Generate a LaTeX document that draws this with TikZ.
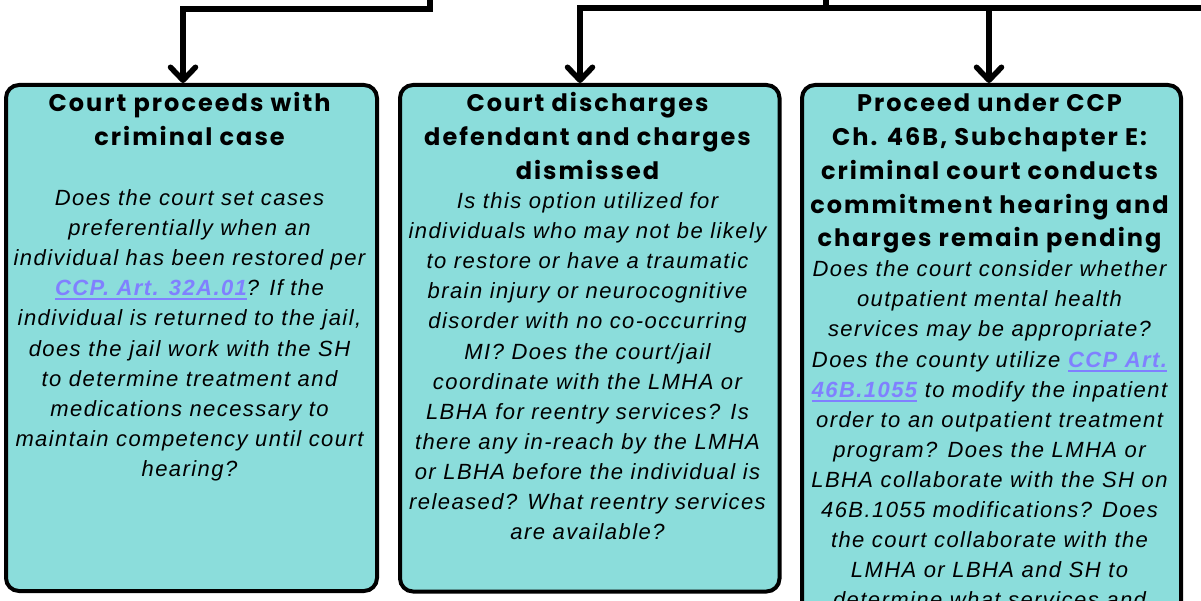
\documentclass[tikz,border=0pt]{standalone}
\usepackage{fontspec}
\setmainfont{Liberation Sans}
\newfontfamily\ttlfont{Poppins}[LetterSpace=8.5]
\newfontfamily\bodyfont{Liberation Sans}[LetterSpace=6.5]
\usetikzlibrary{arrows.meta}
\definecolor{boxfill}{RGB}{139,221,219}
\definecolor{linkc}{RGB}{128,128,255}
\newcommand\lnk[1]{{\color{linkc}\bfseries\setbox0=\hbox{#1}\rlap{\rule[-4.5pt]{\wd0}{2pt}}\box0}}
\tikzset{
  box/.style={draw=black, line width=4pt, fill=boxfill, rounded corners=13pt, rectangle, inner sep=0pt},
  ttl/.style={anchor=base, inner sep=0pt, font=\ttlfont\bfseries\fontsize{24}{28}\selectfont},
  body/.style={anchor=base, inner sep=0pt, font=\bodyfont\itshape\fontsize{22}{24}\selectfont},
  conn/.style={draw=black, line width=5.5pt, line join=miter},
  arr/.style={conn, -{Straight Barb[length=13pt,width=25pt,round]}}
}
\begin{document}
\begin{tikzpicture}[x=1pt,y=-1pt]
\useasboundingbox (0,0) rectangle (1201,601);
\clip (0,0) rectangle (1201,601);
% boxes
\node[box, minimum width=371pt, minimum height=506pt, anchor=north west] (b1) at (4,83) {};
\node[box, minimum width=379.5pt, minimum height=506.5pt, anchor=north west] (b2) at (398,83) {};
\node[box, minimum width=379pt, minimum height=600pt, anchor=north west] (b3) at (800,83) {};
% connectors
\coordinate (s1) at (430,-5);
\coordinate (j1) at (183,9);
\draw[arr] (s1) |- (j1) -- (j1 |- b1.north);
\coordinate (s2) at (826,-5);
\coordinate (j2) at (580,8);
\coordinate (j3) at (989,8);
\coordinate (e2) at (1215,8);
\draw[conn] (s2) -- (s2 |- j2);
\draw[arr] (e2) -- (j2) -- (j2 |- b2.north);
\draw[arr] (j3) -- (j3 |- b3.north);
% box 1 text
\foreach \t [count=\i from 0] in {{Court proceeds with},{criminal case}}
  {\node[ttl] (t1\i) at (189.5,{112+34*\i}) {\t};}
\foreach \t [count=\i from 0] in {{Does the court set cases},{preferentially when an},{individual has been restored per},{\lnk{CCP. Art. 32A.01}? If the},{individual is returned to the jail,},{does the jail work with the SH},{to determine treatment and},{medications necessary to},{maintain competency until court},{hearing?}}
  {\node[body] (p\i) at (189.5,{206+30*\i}) {\t};}
% box 2 text
\foreach \t [count=\i from 0] in {{Court discharges},{defendant and charges},{dismissed}}
  {\node[ttl] (t2\i) at (587.5,{112+34*\i}) {\t};}
\foreach \t [count=\i from 0] in {{Is this option utilized for},{individuals who may not be likely},{to restore or have a traumatic},{brain injury or neurocognitive},{disorder with no co-occurring},{MI? Does the court/jail},{coordinate with the LMHA or},{LBHA for reentry services? Is},{there any in-reach by the LMHA},{or LBHA before the individual is},{released? What reentry services},{are available?}}
  {\node[body] (q\i) at (587.5,{209+30*\i}) {\t};}
% box 3 text
\foreach \t [count=\i from 0] in {{Proceed under CCP},{Ch. 46B, Subchapter E:},{criminal court conducts},{commitment hearing and},{charges remain pending}}
  {\node[ttl] (t3\i) at (989.5,{112+33.75*\i}) {\t};}
\foreach \t [count=\i from 0] in {{Does the court consider whether},{outpatient mental health},{services may be appropriate?},{Does the county utilize \lnk{CCP Art.}},{\lnk{46B.1055} to modify the inpatient},{order to an outpatient treatment},{program? Does the LMHA or},{LBHA collaborate with the SH on},{46B.1055 modifications? Does},{the court collaborate with the},{LMHA or LBHA and SH to},{determine what services and}}
  {\node[body] (r\i) at (989.5,{277+30*\i}) {\t};}
\end{tikzpicture}
\end{document}
